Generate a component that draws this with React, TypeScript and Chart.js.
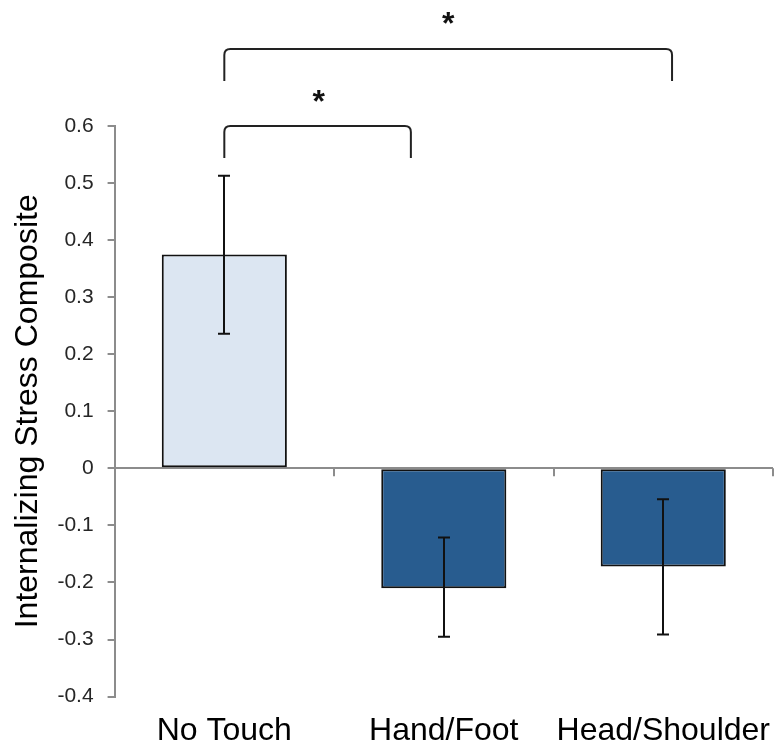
import React, { useEffect, useRef } from "react";
import { Chart, registerables } from "chart.js";

Chart.register(...registerables);

const categories = ["No Touch", "Hand/Foot", "Head/Shoulder"];
const means = [0.375, -0.21, -0.172];
const errHigh = [0.513, -0.121, -0.054];
const errLow = [0.236, -0.295, -0.291];
const barColors = ["#dce6f2", "#285c8f", "#285c8f"];
const yTitle = "Internalizing Stress Composite";
const yMin = -0.4;
const yMax = 0.6;
const yStep = 0.1;

// significance brackets in data units (x = category index, y = value)
const bracketFrom = [0, 0];
const bracketTo = [0.85, 2.04];
const bracketTop = [0.6, 0.735];
const bracketLeg = [0.544, 0.679];
const starX = [0.43, 1.02];
const starY = [0.651, 0.789];
const starLabel = ["*", "*"];

const FONT = "'Liberation Sans', Arial, sans-serif";

const extrasPlugin = {
  id: "extras",
  afterDatasetsDraw(chart: any) {
    const ctx = chart.ctx;
    const x = chart.scales.x;
    const y = chart.scales.y;
    const catW = x.getPixelForValue(1) - x.getPixelForValue(0);
    const y0 = y.getPixelForValue(0);
    ctx.save();
    // boundary ticks on the zero line
    ctx.strokeStyle = "#8c8c8c";
    ctx.lineWidth = 2;
    for (let i = 0; i < categories.length; i++) {
      const bx = Math.round(x.getPixelForValue(i) + catW / 2);
      ctx.beginPath();
      ctx.moveTo(bx, y0);
      ctx.lineTo(bx, y0 + 8);
      ctx.stroke();
    }
    // error bars
    ctx.strokeStyle = "#111";
    ctx.lineWidth = 2;
    const cap = 6;
    for (let i = 0; i < means.length; i++) {
      const cx = Math.round(x.getPixelForValue(i));
      const yh = y.getPixelForValue(errHigh[i]);
      const yl = y.getPixelForValue(errLow[i]);
      ctx.beginPath();
      ctx.moveTo(cx, yh);
      ctx.lineTo(cx, yl);
      ctx.moveTo(cx - cap, yh);
      ctx.lineTo(cx + cap, yh);
      ctx.moveTo(cx - cap, yl);
      ctx.lineTo(cx + cap, yl);
      ctx.stroke();
    }
    // brackets
    ctx.strokeStyle = "#222";
    ctx.lineWidth = 2;
    const r = 6;
    for (let k = 0; k < bracketFrom.length; k++) {
      const xa = x.getPixelForValue(bracketFrom[k]);
      const xb = x.getPixelForValue(bracketTo[k]);
      const yt = y.getPixelForValue(bracketTop[k]);
      const yl = y.getPixelForValue(bracketLeg[k]);
      ctx.beginPath();
      ctx.moveTo(xa, yl);
      ctx.lineTo(xa, yt + r);
      ctx.quadraticCurveTo(xa, yt, xa + r, yt);
      ctx.lineTo(xb - r, yt);
      ctx.quadraticCurveTo(xb, yt, xb, yt + r);
      ctx.lineTo(xb, yl);
      ctx.stroke();
    }
    // stars
    ctx.fillStyle = "#111";
    ctx.font = `bold 32px ${FONT}`;
    ctx.textAlign = "center";
    ctx.textBaseline = "alphabetic";
    for (let k = 0; k < starLabel.length; k++) {
      const sx = x.getPixelForValue(starX[k]);
      const sy = y.getPixelForValue(starY[k]);
      ctx.fillText(starLabel[k], sx, sy + 0.55 * 32 - 2);
    }
    ctx.restore();
  },
};

export default function App() {
  const ref = useRef<HTMLCanvasElement | null>(null);
  useEffect(() => {
    if (!ref.current) return;
    const chart = new Chart(ref.current, {
      type: "bar",
      data: {
        labels: categories,
        datasets: [
          {
            data: means,
            backgroundColor: barColors,
            borderColor: "#111",
            borderWidth: 2,
            borderSkipped: false,
            barPercentage: 0.57,
            categoryPercentage: 1,
          },
        ],
      },
      options: {
        animation: false,
        responsive: false,
        events: [],
        layout: { padding: { top: 126, left: 6, right: 10, bottom: 0 } },
        plugins: {
          legend: { display: false },
          tooltip: { enabled: false },
        },
        scales: {
          x: {
            offset: true,
            grid: {
              display: true,
              drawOnChartArea: false,
              drawTicks: true,
              tickLength: 15,
              tickColor: "rgba(0,0,0,0)",
              color: "rgba(0,0,0,0)",
            },
            border: { display: false },
            ticks: {
              padding: 0,
              color: "#000",
              font: { family: FONT, size: 32 },
              maxRotation: 0,
              autoSkip: false,
            },
          },
          y: {
            min: yMin,
            max: yMax,
            grid: {
              drawOnChartArea: true,
              color: (c: any) =>
                c.tick && Math.abs(c.tick.value) < 1e-9 ? "#8c8c8c" : "rgba(0,0,0,0)",
              lineWidth: 2,
              tickColor: "#8c8c8c",
              tickLength: 7,
            },
            border: { display: true, color: "#8c8c8c", width: 2 },
            ticks: {
              stepSize: yStep,
              padding: 14,
              color: "#262626",
              font: { family: FONT, size: 21 },
              callback: (v: any) => String(Number(Number(v).toFixed(1))),
            },
            title: {
              display: true,
              text: yTitle,
              color: "#000",
              font: { family: FONT, size: 32 },
              padding: { top: 3, bottom: -4 },
            },
          },
        },
      },
      plugins: [extrasPlugin],
    });
    return () => chart.destroy();
  }, []);
  return (
    <div style={{ position: "absolute", left: 0, top: 0, width: 783, height: 750, background: "#fff" }}>
      <canvas ref={ref} width={783} height={750} style={{ display: "block" }} />
    </div>
  );
}
